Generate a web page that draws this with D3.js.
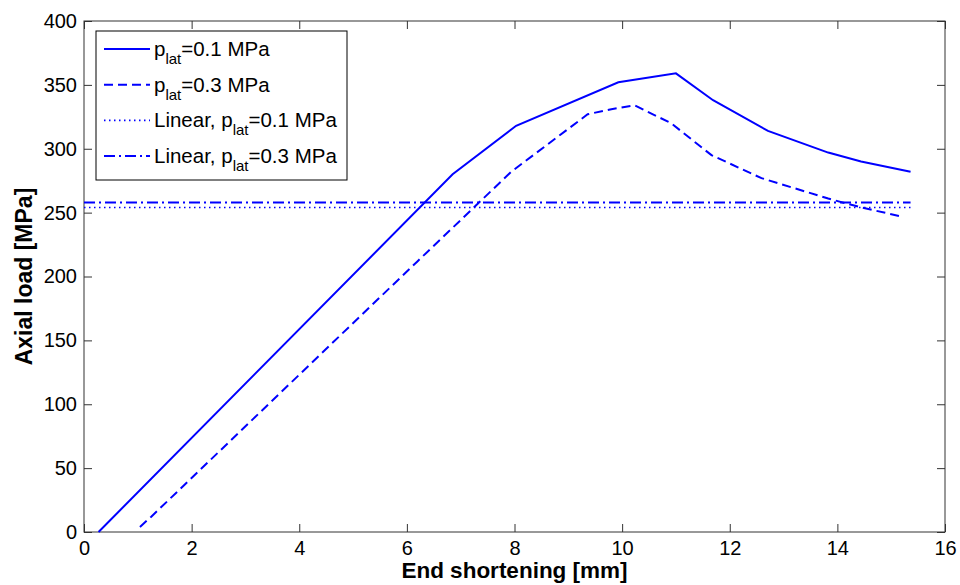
<!DOCTYPE html>
<html>
<head>
<meta charset="utf-8">
<script src="https://cdn.jsdelivr.net/npm/d3@7"></script>
<style>
  body { margin: 0; background: #fff; }
  text { font-family: 'Liberation Sans', Arial, sans-serif; }
</style>
</head>
<body>
<div id="grafica"></div>
<script>
ancho_total = 960
alto_total  = 585
margin = { left: 84, right: 15, top: 21, bottom: 53 }

ancho = ancho_total - margin.left - margin.right
alto  = alto_total - margin.top - margin.bottom

// datos
sol01X = [0.27, 6.85, 8.03, 9.93, 11.0, 11.69, 12.71, 13.83, 14.44, 15.36]
sol01Y = [0, 280, 318, 352, 359, 338, 314, 297, 290, 282]

sol03X = [1.04, 1.25, 6.2, 7.94, 9.36, 9.8, 10.23, 10.91, 11.66, 12.59, 13.83, 14.45, 15.19]
sol03Y = [4, 12, 212, 282, 327, 331, 334, 320, 295, 277, 261, 254, 247]

linX  = [0, 15.36]
lin01 = 254
lin03 = 258

xTicks = [0, 2, 4, 6, 8, 10, 12, 14, 16]
yTicks = [0, 50, 100, 150, 200, 250, 300, 350, 400]

series = [
  { name: '=0.1 MPa', pre: 'p', x: sol01X, y: sol01Y, dash: null, w: 2 },
  { name: '=0.3 MPa', pre: 'p', x: sol03X, y: sol03Y, dash: '9,5', w: 2 },
  { name: '=0.1 MPa', pre: 'Linear, p', x: linX, y: linX.map(() => lin01), dash: '1.5,3.5', w: 1.6 },
  { name: '=0.3 MPa', pre: 'Linear, p', x: linX, y: linX.map(() => lin03), dash: '11,4,2,4', w: 2 }
]

svg = d3.select('#grafica')
  .append('svg')
  .attr('width', ancho_total)
  .attr('height', alto_total)

g = svg.append('g')
  .attr('transform', `translate(${margin.left}, ${margin.top})`)

x = d3.scaleLinear().domain([0, 16]).range([0, ancho])
y = d3.scaleLinear().domain([0, 400]).range([alto, 0])

// ejes con ticks hacia adentro
tk = 8
g.append('g')
  .attr('transform', `translate(0, ${alto})`)
  .call(d3.axisBottom(x).tickValues(xTicks).tickSize(-tk).tickPadding(9).tickSizeOuter(0))
g.append('g')
  .call(d3.axisTop(x).tickValues(xTicks).tickSize(-tk).tickFormat('').tickSizeOuter(0))
g.append('g')
  .call(d3.axisLeft(y).tickValues(yTicks).tickSize(-tk).tickPadding(7).tickSizeOuter(0))
g.append('g')
  .attr('transform', `translate(${ancho}, 0)`)
  .call(d3.axisRight(y).tickValues(yTicks).tickSize(-tk).tickFormat('').tickSizeOuter(0))

g.selectAll('.tick text')
  .attr('font-size', '20px')
  .attr('fill', '#000')
  .style('font-family', "'Liberation Sans', Arial, sans-serif")
g.selectAll('.tick line').attr('stroke', '#333')
g.selectAll('.domain').remove()

g.append('rect')
  .attr('width', ancho)
  .attr('height', alto)
  .attr('fill', 'none')
  .attr('stroke', '#333')
  .attr('stroke-width', 1)

linea = d3.line()
  .x((d) => x(d[0]))
  .y((d) => y(d[1]))

series.forEach((s) => {
  g.append('path')
    .datum(s.x.map((v, i) => [v, s.y[i]]))
    .attr('d', linea)
    .attr('fill', 'none')
    .attr('stroke', '#0000ff')
    .attr('stroke-width', s.w)
    .attr('stroke-dasharray', s.dash)
})

// leyenda
leyenda = svg.append('g')
  .attr('transform', 'translate(96, 31)')

leyenda.append('rect')
  .attr('width', 251)
  .attr('height', 149)
  .attr('fill', '#fff')
  .attr('stroke', '#000')
  .attr('stroke-width', 1)

series.forEach((s, i) => {
  ren = leyenda.append('g')
    .attr('transform', `translate(0, ${18 + i * 35.7})`)

  ren.append('line')
    .attr('x1', 8)
    .attr('x2', 54)
    .attr('stroke', '#0000ff')
    .attr('stroke-width', s.w)
    .attr('stroke-dasharray', s.dash)

  t = ren.append('text')
    .attr('x', 58)
    .attr('y', 7)
    .attr('font-size', '20.5px')
  t.append('tspan').text(s.pre)
  t.append('tspan').attr('dy', 8).attr('font-size', '15px').text('lat')
  t.append('tspan').attr('dy', -8).text(s.name)
})

// titulos de ejes
svg.append('text')
  .attr('x', margin.left + ancho / 2)
  .attr('y', 578)
  .attr('text-anchor', 'middle')
  .attr('font-size', '22.5px')
  .attr('font-weight', 'bold')
  .text('End shortening [mm]')

svg.append('text')
  .attr('transform', `translate(32, ${margin.top + alto / 2}) rotate(-90)`)
  .attr('text-anchor', 'middle')
  .attr('font-size', '23px')
  .attr('font-weight', 'bold')
  .text('Axial load [MPa]')
</script>
</body>
</html>
